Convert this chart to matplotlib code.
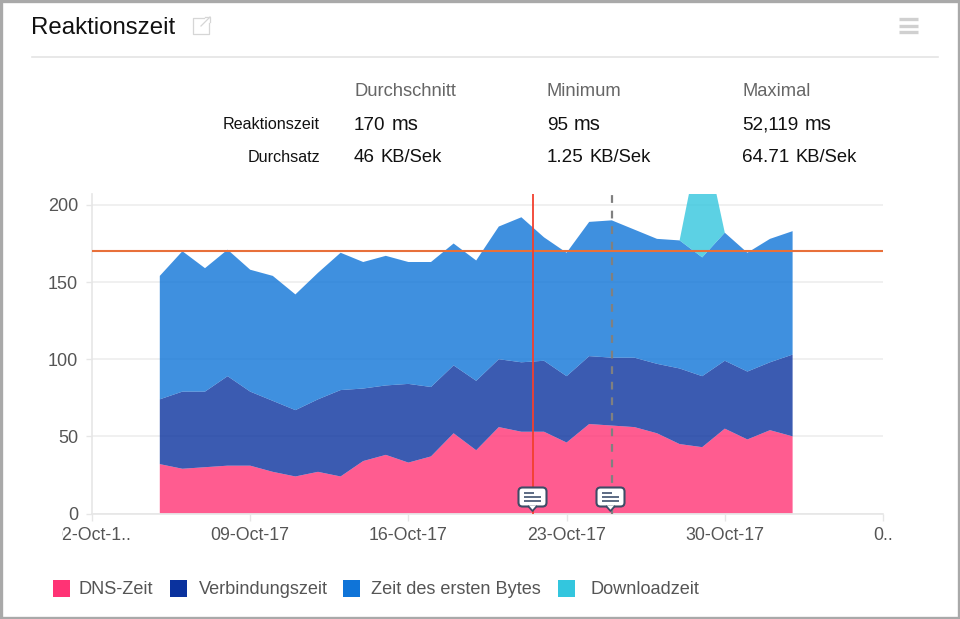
import datetime as dt
import matplotlib
matplotlib.use("Agg")
import matplotlib.pyplot as plt
import matplotlib.dates as mdates
from matplotlib.patches import FancyBboxPatch, Polygon, Rectangle
from matplotlib.transforms import Bbox

plt.rcParams["font.family"] = ["Liberation Sans", "DejaVu Sans"]

# ================== datos ============== #
START = dt.date(2017, 10, 5)
dns = [32, 29, 30, 31, 31, 27, 24, 27, 24, 34, 38, 33, 37, 52, 41, 56, 53, 53, 46, 58, 57, 56, 52, 45, 43, 55, 48, 54, 50]
verbindung = [42, 50, 49, 58, 48, 46, 43, 47, 56, 47, 45, 51, 45, 44, 45, 44, 45, 46, 43, 44, 44, 45, 45, 49, 46, 44, 44, 44, 53]
first_byte = [80, 91, 80, 82, 79, 81, 75, 82, 89, 82, 84, 79, 81, 79, 78, 86, 94, 80, 80, 87, 89, 83, 81, 83, 77, 83, 77, 80, 80]
download = [0, 0, 0, 0, 0, 0, 0, 0, 0, 0, 0, 0, 0, 0, 0, 0, 0, 0, 0, 0, 0, 0, 0, 0, 84, 0, 0, 0, 0]
dates = [START + dt.timedelta(days=i) for i in range(len(dns))]

series_names = ["DNS-Zeit", "Verbindungszeit", "Zeit des ersten Bytes", "Downloadzeit"]
series_colors = ["#FF3375", "#0A329E", "#0F74D8", "#33C6DE"]

y_ticks = [0, 50, 100, 150, 200]
x_ticks = [dt.date(2017, 10, 2), dt.date(2017, 10, 9), dt.date(2017, 10, 16),
           dt.date(2017, 10, 23), dt.date(2017, 10, 30), dt.date(2017, 11, 6)]
x_labels = ["02-Oct-1..", "09-Oct-17", "16-Oct-17", "23-Oct-17", "30-Oct-17", "0.."]

avg_line = 170
red_marker = dt.datetime(2017, 10, 21, 12)
grey_marker = dt.date(2017, 10, 25)

stat_headers = ["Durchschnitt", "Minimum", "Maximal"]
stat_rows = ["Reaktionszeit", "Durchsatz"]
stat_resp = [("170", "ms"), ("95", "ms"), ("52,119", "ms")]
stat_thru = [("46", "KB/Sek"), ("1.25", "KB/Sek"), ("64.71", "KB/Sek")]

# ================== figura ============== #
W, H = 960, 619
fig = plt.figure(figsize=(W / 100, H / 100), dpi=100, facecolor="white")
ax = fig.add_axes([92 / W, 1 - 513.5 / H, 791 / W, 320 / H])

ax.stackplot(dates, dns, verbindung, first_byte, download, colors=series_colors,
             alpha=0.8, linewidth=0, zorder=2)

ax.set_xlim(mdates.date2num(x_ticks[0]), mdates.date2num(x_ticks[-1]))
ax.set_ylim(0, 207.4)
ax.set_yticks(y_ticks)
ax.set_xticks(x_ticks)
ax.set_xticklabels(x_labels)
ax.grid(axis="y", color="#EDEDED", lw=1.2, zorder=0)
ax.tick_params(axis="y", length=4, width=1, color="#E6E6E6", labelsize=13, labelcolor="#555555", pad=6)
ax.tick_params(axis="x", length=5, width=1, color="#E6E6E6", labelsize=12.8, labelcolor="#555555", pad=5)
for s in ("top", "right"):
    ax.spines[s].set_visible(False)
for s in ("left", "bottom"):
    ax.spines[s].set_color("#E6E6E6")
    ax.spines[s].set_linewidth(1.2)

# la primera etiqueta queda cortada por la izquierda
first = ax.get_xticklabels()[0]
first.set_clip_on(True)
first.set_clip_box(Bbox([[62, 0], [W, H]]))

ax.axhline(avg_line, color="#E8703A", lw=1.5, zorder=4)
ax.axvline(red_marker, color="#F2402E", lw=1.3, zorder=5)
ax.axvline(grey_marker, color="#808080", lw=1.6, ls=(0, (3.5, 3.5)), zorder=5)

# ================== capa en pixeles ============== #
ov = fig.add_axes([0, 0, 1, 1], zorder=10)
ov.set_xlim(0, W)
ov.set_ylim(H, 0)
ov.axis("off")
ov.patch.set_alpha(0)

ov.add_patch(Rectangle((1, 1), W - 2, H - 2, fill=False, ec="#A9A9A9", lw=2.4))
ov.plot([32, 938], [57, 57], color="#E4E4E4", lw=1.2)
ov.text(31, 28, "Reaktionszeit", fontsize=17.3, color="#111111", va="center")

# icono de enlace externo
ov.plot([204, 193, 193, 209, 209], [18, 18, 34, 34, 23], color="#D6D6D6", lw=0.9)
ov.plot([201, 210], [26, 17], color="#D6D6D6", lw=0.9)
ov.plot([205, 210, 210], [17, 17, 22], color="#D6D6D6", lw=0.9)

# menu
for y in (18.5, 25.5, 32):
    ov.plot([899, 918], [y, y], color="#D0D0D0", lw=2.4, solid_capstyle="butt")

# tabla de estadisticas
col_x = [354, 547, 742]
renderer = fig.canvas.get_renderer()
for x, h in zip(col_x, stat_headers):
    ov.text(x, 92, h, fontsize=13.2, color="#666666", va="center")
for y, lab in zip((124.5, 157.5), stat_rows):
    ov.text(320, y, lab, fontsize=11.6, color="#111111", va="center", ha="right")
for y, row in zip((125, 158), (stat_resp, stat_thru)):
    for x, (num, unit) in zip(col_x, row):
        t = ov.text(x, y, num, fontsize=13.6, color="#111111", va="center")
        bb = t.get_window_extent(renderer)
        ov.text(bb.x1 + 6, y, unit, fontsize=14.5 if unit == "ms" else 13.2,
                color="#111111", va="center")

# ================== globos de comentario ============== #
def bubble(cx):
    ov.add_patch(FancyBboxPatch((cx - 14, 487.5), 28, 19, boxstyle="round,pad=0,rounding_size=4",
                                fc="white", ec="#3E4C66", lw=1.5))
    ov.add_patch(Polygon([[cx - 4, 505.5], [cx + 4, 505.5], [cx, 511]], fc="white", ec="none"))
    ov.plot([cx - 4, cx, cx + 4], [506.5, 511, 506.5], color="#3E4C66", lw=1.3)
    for y, w in zip((493, 497, 501), (10, 17, 17)):
        ov.plot([cx - 8.5, cx - 8.5 + w], [y, y], color="#4F5F7A", lw=1.3, solid_capstyle="butt")

bubble(532.5)
bubble(610.5)

# ================== leyenda ============== #
legend_x = [53, 170, 343, 558]
text_x = [79, 199, 371, 591]
for x, tx, name, c in zip(legend_x, text_x, series_names, series_colors):
    ov.add_patch(Rectangle((x, 580), 17, 17, fc=c, ec="none"))
    ov.text(tx, 589, name, fontsize=13.1, color="#555555", va="center")

fig.savefig("out.png", dpi=100)
